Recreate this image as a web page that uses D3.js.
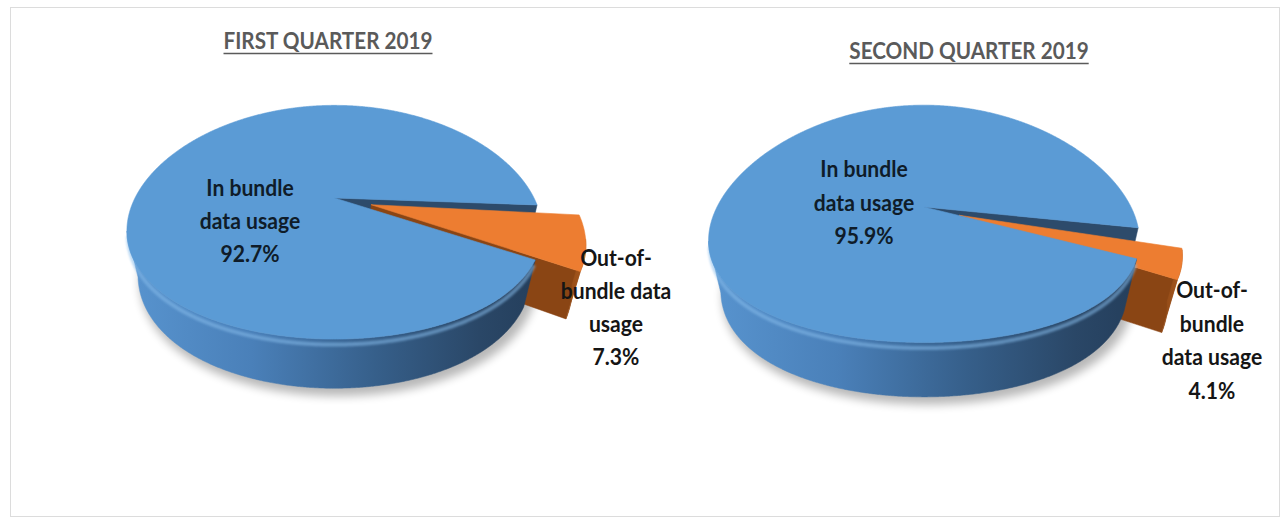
<!DOCTYPE html>
<html><head><meta charset="utf-8">
<script src="https://cdn.jsdelivr.net/npm/d3@7"></script>
<style>html,body{margin:0;padding:0;background:#fff;} svg{display:block;}</style>
</head><body><svg id="chart" width="1286" height="520"></svg>
<script>
// ---------- data ----------
const quarters = ["FIRST QUARTER 2019", "SECOND QUARTER 2019"];
const categories = ["In bundle data usage", "Out-of-bundle data usage"];
const q1Values = [92.7, 7.3];
const q2Values = [95.9, 4.1];
const q1LabelLines = [["In bundle", "data usage"], ["Out-of-", "bundle data", "usage"]];
const q2LabelLines = [["In bundle", "data usage"], ["Out-of-", "bundle", "data usage"]];
const sliceColors = ["#5B9BD5", "#ED7D31"];

// ---------- layout ----------
const layouts = [
  {cx:334.5, cy:198, sv:200, sh:199.5, phi:34, f:4.0, fh:3.0, depth:0.28, explode:0.19, twist:1.5, rotation:29.8,
   titleX:328, titleY:49, inLabel:[250,196], outLabel:[616,266], lh:33},
  {cx:924, cy:207, sv:209, sh:207, phi:33.8, f:5.86, fh:3.0, depth:0.30, explode:0.18, twist:5.5, rotation:24.8,
   titleX:969, titleY:59, inLabel:[864,177], outLabel:[1212,298], lh:33.5}
];
const pies = [
  {title: quarters[0], values: q1Values, lines: q1LabelLines, L: layouts[0]},
  {title: quarters[1], values: q2Values, lines: q2LabelLines, L: layouts[1]}
];

const svg = d3.select("#chart");
const defs = svg.append("defs");
svg.append("rect").attr("width",1286).attr("height",520).attr("fill","#fff");

const blur = (id, sd) => defs.append("filter").attr("id", id).attr("x","-20%").attr("y","-20%")
  .attr("width","140%").attr("height","140%")
  .append("feGaussianBlur").attr("stdDeviation", sd);
blur("shadowBlur", 5);
blur("softBlur", 1.2);
blur("frameBlur", 1.5);

// frame
svg.append("line").attr("x1",1281).attr("x2",1281).attr("y1",9).attr("y2",518)
  .attr("stroke","#7a7a7a").attr("stroke-width",3).attr("filter","url(#frameBlur)");
svg.append("line").attr("x1",10).attr("x2",1281).attr("y1",518).attr("y2",518)
  .attr("stroke","#b8b8b8").attr("stroke-width",2.5).attr("filter","url(#frameBlur)");
svg.append("line").attr("x1",9).attr("x2",9).attr("y1",8).attr("y2",518)
  .attr("stroke","#c4c4c4").attr("stroke-width",3).attr("filter","url(#frameBlur)");
svg.append("rect").attr("x",10.5).attr("y",7.5).attr("width",1269).attr("height",509)
  .attr("fill","#fff").attr("stroke","#dcdcdc").attr("stroke-width",1);

const line = d3.line().curve(d3.curveLinearClosed);
const openLine = d3.line();
const fmt = d3.format(".1f");
const pieGen = d3.pie().sort(null).value(d => d);

pies.forEach((P, pi) => {
  const L = P.L;
  const ph = L.phi * Math.PI / 180, sp = Math.sin(ph), cp = Math.cos(ph);
  const cam = [0, L.f * sp, L.f * cp];
  const proj = (X, Y, Z) => {
    const yc = Y * cp - Z * sp, zc = Y * sp + Z * cp;
    const kv = L.f / (L.f - zc), kh = L.fh / (L.fh - zc);
    return [L.cx + L.sh * X * kh, L.cy - L.sv * yc * kv];
  };
  const rot = L.rotation * Math.PI / 180;
  const tw = L.twist * Math.PI / 180;
  const d = L.depth;
  const arcs = pieGen(P.values).map((a, i) => {
    const e = i === 1 ? L.explode : 0;
    const extra = i === 1 ? tw : 0;
    const t0 = rot + a.startAngle + extra, t1 = rot + a.endAngle + extra, mid = (t0 + t1) / 2;
    return {i, t0, t1, ox: e * Math.cos(mid), oz: e * Math.sin(mid), value: a.data};
  });

  // silhouette angles (screen-space extremes of the rim, front half)
  let tL = Math.PI, tR = 0, minX = Infinity, maxX = -Infinity;
  for (let t = -0.5; t <= Math.PI + 0.5; t += 0.002) {
    const x = proj(Math.cos(t), 0, Math.sin(t))[0];
    if (x < minX) { minX = x; tL = t; }
    if (x > maxX) { maxX = x; tR = t; }
  }

  const gB = defs.append("linearGradient").attr("id", "wallB" + pi)
    .attr("gradientUnits", "userSpaceOnUse")
    .attr("x1", minX).attr("x2", maxX).attr("y1", 0).attr("y2", 0);
  [[0, "#5894CF"], [0.3, "#4A80B9"], [0.6, "#365F8A"], [0.85, "#2A4767"], [1, "#243E5B"]]
    .forEach(s => gB.append("stop").attr("offset", s[0]).attr("stop-color", s[1]));
  const gO = defs.append("linearGradient").attr("id", "wallO" + pi)
    .attr("gradientUnits", "userSpaceOnUse")
    .attr("x1", L.cx + L.sh * 0.7).attr("x2", L.cx + L.sh * 1.25).attr("y1", 0).attr("y2", 0);
  [[0, "#6E3410"], [0.6, "#7E3E13"], [1, "#A4561C"]]
    .forEach(s => gO.append("stop").attr("offset", s[0]).attr("stop-color", s[1]));
  const wallFill = i => i === 0 ? `url(#wallB${pi})` : `url(#wallO${pi})`;
  const faceFill = ["#2D4B6B", "#8A4514"];

  const g = svg.append("g");

  // shadow
  const shd = d3.range(0, 361, 2).map(t => {
    const r = t * Math.PI / 180;
    const q = proj(Math.cos(r) * 1.01, -d, Math.sin(r) * 1.01);
    return [q[0] + 4, q[1] + 6];
  });
  g.append("path").attr("d", line(shd)).attr("fill", "#000").attr("opacity", 0.28)
    .attr("filter", "url(#shadowBlur)");

  const sample = (t0, t1) => {
    const n = Math.max(2, Math.ceil(Math.abs(t1 - t0) / 0.006));
    return d3.range(n + 1).map(k => t0 + (t1 - t0) * k / n);
  };
  const norm = t => { let u = t % (2 * Math.PI); if (u < -0.6) u += 2 * Math.PI; if (u > 2 * Math.PI - 0.6) u -= 2 * Math.PI; return u; };
  const visibleWall = t => { const u = norm(t); return u >= tR && u <= tL; };
  const drawFaces = a => {
    [[a.t0, 1], [a.t1, -1]].forEach(([al, sgn]) => {
      const n = [sgn * Math.sin(al), 0, -sgn * Math.cos(al)];
      const P0 = [a.ox + 0.5 * Math.cos(al), -d / 2, a.oz + 0.5 * Math.sin(al)];
      const dot = n[0] * (cam[0] - P0[0]) + n[1] * (cam[1] - P0[1]) + n[2] * (cam[2] - P0[2]);
      if (dot <= 0) return;
      const pts = [proj(a.ox, 0, a.oz), proj(a.ox + Math.cos(al), 0, a.oz + Math.sin(al)),
        proj(a.ox + Math.cos(al), -d, a.oz + Math.sin(al)), proj(a.ox, -d, a.oz)];
      g.append("path").attr("d", line(pts)).attr("fill", faceFill[a.i])
        .attr("stroke", faceFill[a.i]).attr("stroke-width", 0.5);
    });
  };
  const drawWall = a => {
    const ts = sample(a.t0, a.t1);
    let runs = [], cur = [];
    ts.forEach(t => { if (visibleWall(t)) cur.push(t); else if (cur.length) { runs.push(cur); cur = []; } });
    if (cur.length) runs.push(cur);
    runs.forEach(run => {
      const top = run.map(t => proj(a.ox + Math.cos(t), 0, a.oz + Math.sin(t)));
      const bot = run.slice().reverse().map(t => proj(a.ox + Math.cos(t), -d, a.oz + Math.sin(t)));
      g.append("path").attr("d", line(top.concat(bot))).attr("fill", wallFill(a.i))
        .attr("stroke", wallFill(a.i)).attr("stroke-width", 0.5);
      if (a.i === 0) {
        const bev = run.map(t => proj(a.ox + Math.cos(t), -0.03, a.oz + Math.sin(t)));
        g.append("path").attr("d", openLine(bev)).attr("fill", "none")
          .attr("stroke", "#86BBEA").attr("stroke-width", 4).attr("opacity", 0.55)
          .attr("filter", "url(#softBlur)");
      }
    });
  };
  const drawTop = a => {
    const pts = [proj(a.ox, 0, a.oz)].concat(sample(a.t0, a.t1)
      .map(t => proj(a.ox + Math.cos(t), 0, a.oz + Math.sin(t))));
    g.append("path").attr("d", line(pts)).attr("fill", sliceColors[a.i])
      .attr("stroke", sliceColors[a.i]).attr("stroke-width", 0.6);
  };

  const main = arcs[0], ex = arcs[1];
  drawFaces(main);
  drawFaces(ex); drawWall(ex); drawTop(ex);
  drawWall(main); drawTop(main);

  // title
  const sx = 0.9;
  const tt = svg.append("text").attr("transform", `translate(${L.titleX},${L.titleY}) scale(${sx},1)`)
    .attr("text-anchor", "middle").attr("font-family", "Lato, 'Open Sans', sans-serif")
    .attr("font-weight", 700).attr("font-size", 23).attr("fill", "#5a5a5a").text(P.title);
  const tW = tt.node().getComputedTextLength() * sx;
  svg.append("line").attr("x1", L.titleX - tW / 2).attr("x2", L.titleX + tW / 2)
    .attr("y1", L.titleY + 4.5).attr("y2", L.titleY + 4.5).attr("stroke", "#5a5a5a").attr("stroke-width", 1.6);

  // labels
  const lsx = 0.96;
  arcs.forEach((a, i) => {
    const lines = P.lines[i].concat([fmt(a.value) + "%"]);
    const pos = i === 0 ? L.inLabel : L.outLabel;
    lines.forEach((t, k) => {
      svg.append("text").attr("transform", `translate(${pos[0]},${pos[1] + k * L.lh}) scale(${lsx},1)`)
        .attr("text-anchor", "middle").attr("font-family", "Lato, 'Open Sans', sans-serif")
        .attr("font-weight", 700).attr("font-size", 22)
        .attr("fill", i === 0 ? "#0f1c29" : "#151515").text(t);
    });
  });
});
</script></body></html>
